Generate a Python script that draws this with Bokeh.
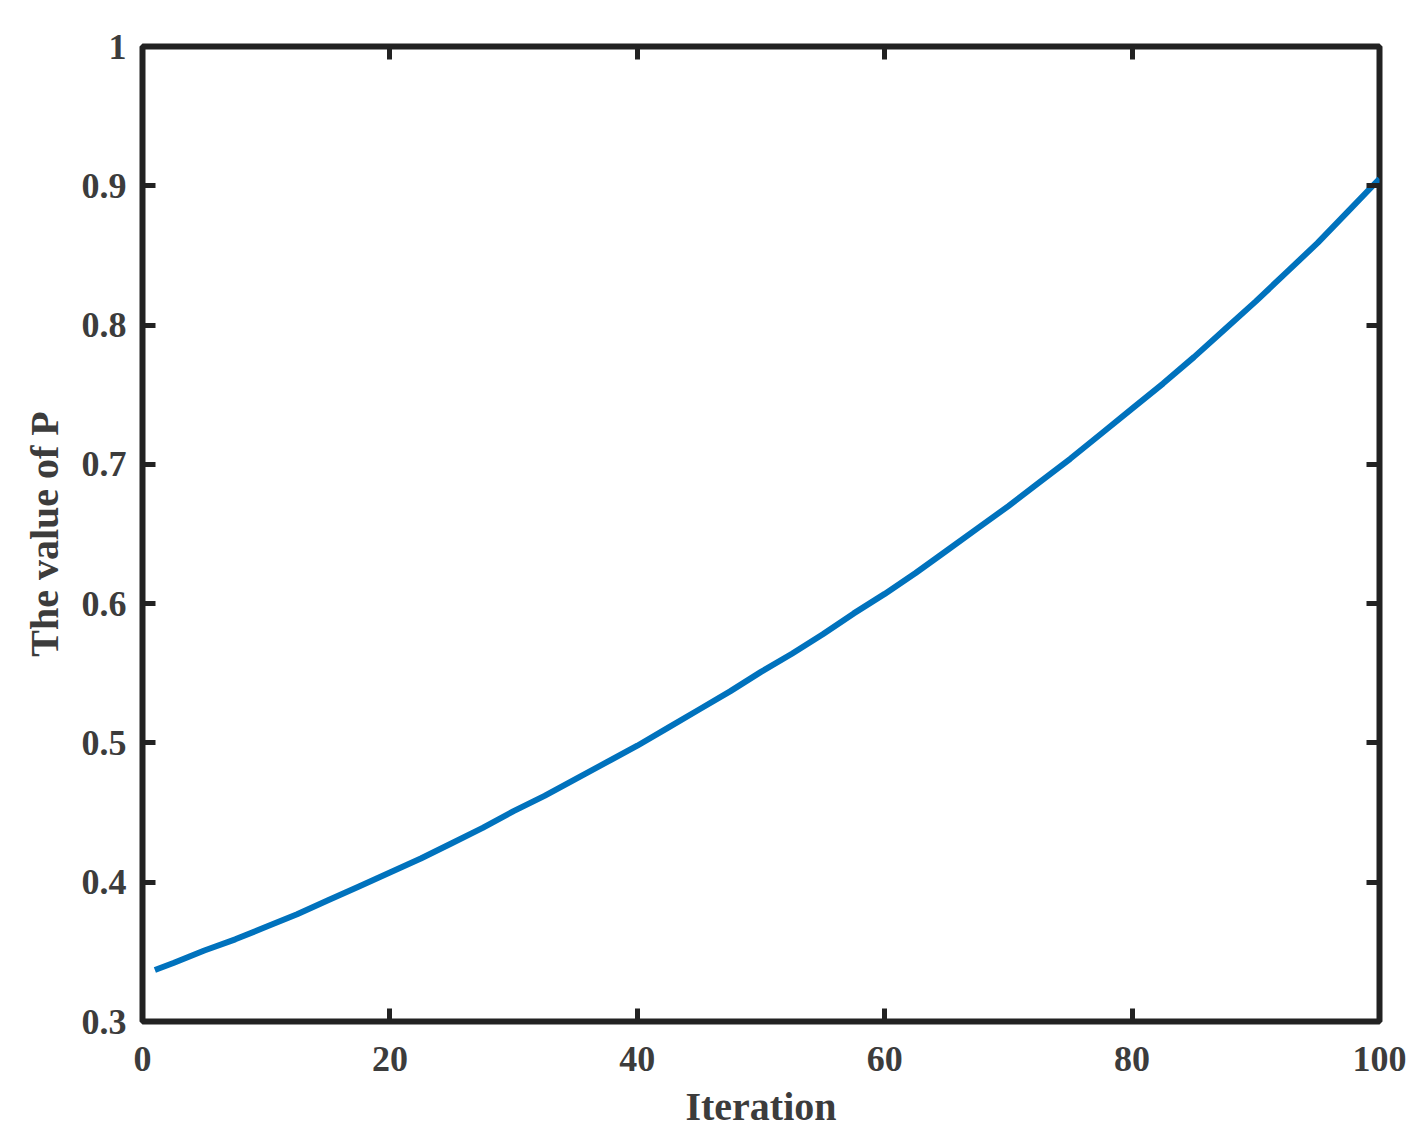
from bokeh.plotting import figure
from bokeh.models import Range1d, LinearAxis, FixedTicker
from bokeh.embed import file_html
from bokeh.resources import INLINE

# Data
iteration = [1, 2.5, 5, 7.5, 10, 12.5, 15, 17.5, 20, 22.5, 25, 27.5, 30, 32.5, 35, 37.5,
             40, 42.5, 45, 47.5, 50, 52.5, 55, 57.5, 60, 62.5, 65, 67.5, 70, 72.5, 75,
             77.5, 80, 82.5, 85, 87.5, 90, 92.5, 95, 97.5, 100]
p_value = [0.337, 0.342, 0.351, 0.359, 0.368, 0.377, 0.387, 0.397, 0.407, 0.417, 0.428,
           0.439, 0.451, 0.462, 0.474, 0.486, 0.498, 0.511, 0.524, 0.537, 0.551, 0.564,
           0.578, 0.593, 0.607, 0.622, 0.638, 0.654, 0.670, 0.687, 0.704, 0.722, 0.740,
           0.758, 0.777, 0.797, 0.817, 0.838, 0.859, 0.882, 0.905]
x_ticks = [0, 20, 40, 60, 80, 100]
y_ticks = [0.3, 0.4, 0.5, 0.6, 0.7, 0.8, 0.9, 1.0]
y_tick_labels = {0.3: "0.3", 0.4: "0.4", 0.5: "0.5", 0.6: "0.6", 0.7: "0.7",
                 0.8: "0.8", 0.9: "0.9", 1.0: "1"}

FONT = "Liberation Serif"
TEXT = "#3c3c3c"
FRAME = "#222222"

p = figure(width=1411, height=1132, output_backend="svg", toolbar_location=None,
           x_range=Range1d(0, 100), y_range=Range1d(0.3, 1.0),
           min_border_left=142, min_border_right=32, min_border_top=46, min_border_bottom=111,
           x_axis_label="Iteration", y_axis_label="The value of P")

p.grid.visible = False
p.outline_line_color = FRAME
p.outline_line_width = 6
p.background_fill_color = "white"
p.border_fill_color = "white"

p.line(iteration, p_value, line_color="#0072BD", line_width=6, line_join="round")


def style_axis(ax, labels=True):
    ax.axis_line_color = None
    ax.major_tick_in = 13
    ax.major_tick_out = 0
    ax.major_tick_line_color = FRAME
    ax.major_tick_line_width = 5
    ax.minor_tick_line_color = None
    ax.major_label_text_font = FONT
    ax.major_label_text_font_style = "bold"
    ax.major_label_text_font_size = "36px"
    ax.major_label_text_color = TEXT
    ax.axis_label_text_font = FONT
    ax.axis_label_text_font_style = "bold"
    ax.axis_label_text_font_size = "40px"
    ax.axis_label_text_color = TEXT
    if not labels:
        ax.major_label_text_font_size = "0px"
        ax.major_label_text_color = None


xa = p.xaxis[0]
ya = p.yaxis[0]
xa.ticker = FixedTicker(ticks=x_ticks)
ya.ticker = FixedTicker(ticks=y_ticks)
ya.major_label_overrides = y_tick_labels
style_axis(xa)
style_axis(ya)
xa.major_label_standoff = 25
xa.axis_label_standoff = 10
ya.major_label_standoff = 16
ya.axis_label_standoff = 12

top = LinearAxis(ticker=FixedTicker(ticks=x_ticks))
right = LinearAxis(ticker=FixedTicker(ticks=y_ticks))
style_axis(top, labels=False)
style_axis(right, labels=False)
top.major_label_standoff = 0
right.major_label_standoff = 0
p.add_layout(top, "above")
p.add_layout(right, "right")

open("out.html", "w").write(file_html(p, INLINE))
